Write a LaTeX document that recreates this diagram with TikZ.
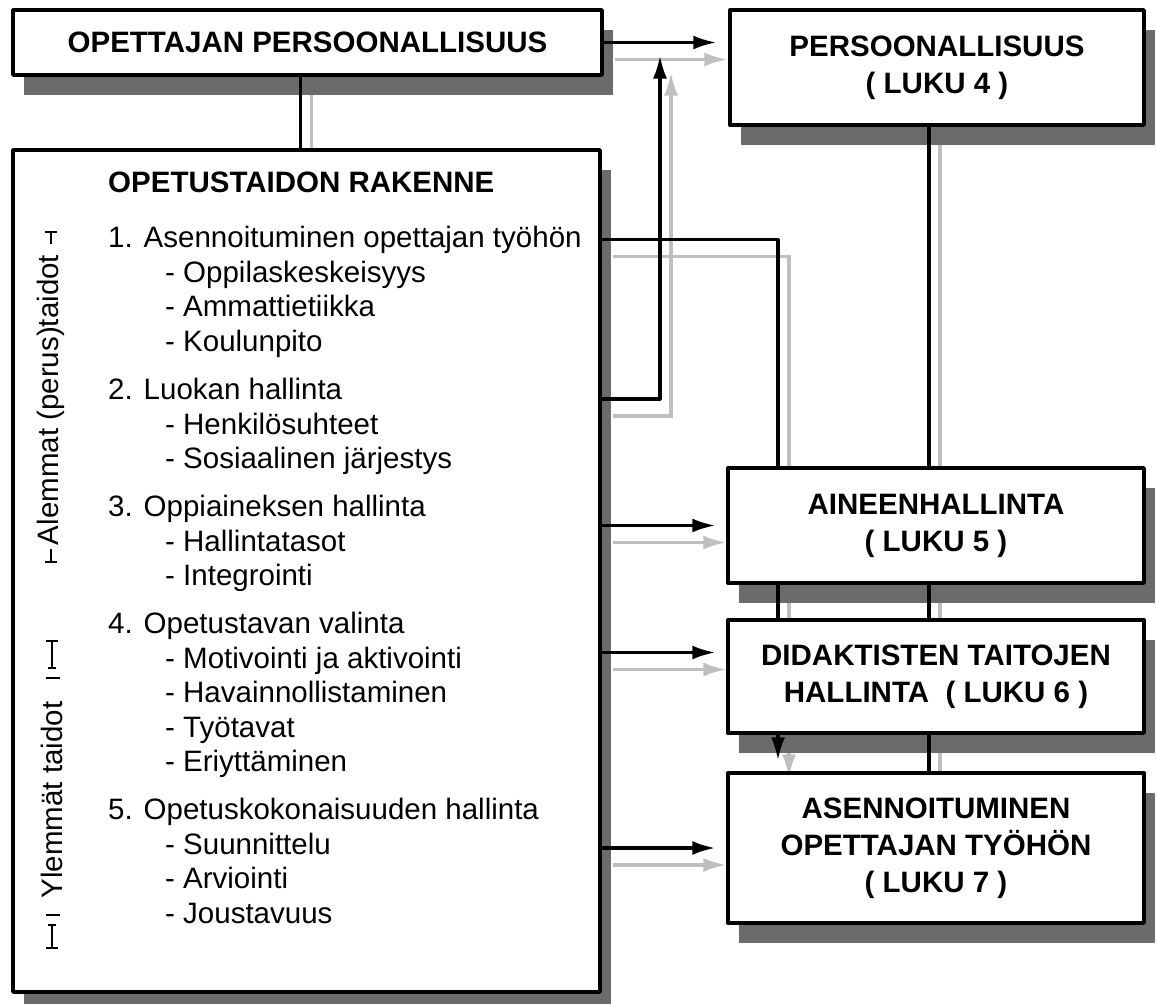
\documentclass[tikz,border=0pt]{standalone}
\usepackage{fontspec}
\setmainfont{Liberation Sans}
\usetikzlibrary{arrows.meta,shadows}
\pgfdeclarelayer{background}
\pgfsetlayers{background,main}
% the connectors, drawn twice: grey shadow copy and black line
\newcommand{\drawlinks}{%
  \draw[link, ->, shorten >=12pt] (topbox.east) -- (topbox.east -| pers.west);
  \draw[link] ([xshift=-7pt]topbox.south) -- ([xshift=-7pt]topbox.south |- rakenne.north);
  \draw[link, ->, shorten >=13pt] (rakenne.east |- t2.base) -| (upjoin);
  \draw[link] (rakenne.east |- t1) -| (lane1 |- aine.north);
  \draw[link] (lane2 |- pers.south) -- (lane2 |- aine.north);
  \draw[link] (lane1 |- aine.south) -- (lane1 |- didak.north);
  \draw[link] (lane2 |- aine.south) -- (lane2 |- didak.north);
  \draw[link, ->, shorten >=11pt] (lane1 |- didak.south) -- (lane1 |- asenn.north);
  \draw[link] (lane2 |- didak.south) -- (lane2 |- asenn.north);
  \draw[link, ->, shorten >=11pt] (rakenne.east |- aine.west) -- (aine.west);
  \draw[link, ->, shorten >=11pt] (rakenne.east |- didak.west) ++(0,-24) -- ([yshift=24pt]didak.west);
  \draw[link, ->, shorten >=11pt] (rakenne.east |- asenn.west) -- (asenn.west);
}
\begin{document}
\begin{tikzpicture}[x=1pt, y=-1pt, line join=round,
    >={Latex[length=23pt,width=14pt]},
    link/.style={line width=3.2pt},
    tick/.style={line width=2.6pt},
    box/.style={draw, line width=3.4pt, fill=white, align=center, inner sep=0pt,
      font=\fontsize{29.5}{37}\selectfont\bfseries,
      drop shadow={shadow xshift=11pt, shadow yshift=-20pt, fill=black!58, opacity=1}},
    item/.style={anchor=base west, inner sep=0pt, font=\fontsize{29.5}{35}\selectfont}]
  \useasboundingbox (0,0) rectangle (1157,1004);
  % boxes
  \node[box, minimum width=589pt, minimum height=65pt] (topbox) at (307.5,42.5) {OPETTAJAN PERSOONALLISUUS};
  \node[box, minimum width=414pt, minimum height=115pt] (pers) at (937,67.5) {PERSOONALLISUUS\\( LUKU 4 )};
  \node[box, minimum width=587pt, minimum height=842pt] (rakenne) at (306.5,571) {};
  \node[box, minimum width=416pt, minimum height=115pt] (aine) at (936,525.5) {AINEENHALLINTA\\( LUKU 5 )};
  \node[box, minimum width=416pt, minimum height=113pt] (didak) at (936,676.5) {DIDAKTISTEN TAITOJEN\\HALLINTA \ ( LUKU 6 )};
  \node[box, minimum width=416pt, minimum height=150pt] (asenn) at (936,848) {ASENNOITUMINEN\\OPETTAJAN TYÖHÖN\\( LUKU 7 )};
  % contents of the big box
  \node[item, font=\fontsize{29.5}{35}\selectfont\bfseries] (title) at (108,192) {OPETUSTAIDON RAKENNE};
  \foreach \y/\txt [count=\i] in {247/Asennoituminen opettajan työhön, 399/Luokan hallinta,
      516/Oppiaineksen hallinta, 633/Opetustavan valinta, 819/Opetuskokonaisuuden hallinta}
    \node[item] (t\i) at (108,\y) {\i. \txt};
  \foreach \y/\txt [count=\i] in {282/Oppilaskeskeisyys, 316/Ammattietiikka, 351/Koulunpito,
      434/Henkilösuhteet, 468/Sosiaalinen järjestys, 551/Hallintatasot, 585/Integrointi,
      668/Motivointi ja aktivointi, 702/Havainnollistaminen, 737/Työtavat, 771/Eriyttäminen,
      854/Suunnittelu, 888/Arviointi, 923/Joustavuus}
    \node[item] (s\i) at (165,\y) {- \txt};
  % side labels
  \node[rotate=90, inner sep=0pt, font=\fontsize{29.5}{35}\selectfont] (alemmat) at (51,400) {Alemmat (perus)taidot};
  \node[rotate=90, inner sep=0pt, font=\fontsize{29.5}{35}\selectfont] (ylemmat) at (52,800) {Ylemmät taidot};
  \draw[tick] (45,232) -- (57,232) (51,232) -- (51,244);
  \draw[tick] (51,549) -- (51,562) (45,562) -- (57,562);
  \draw[tick] (46,641) -- (58,641) (52,641) -- (52,668) (48,668) -- (56,668);
  \draw[tick] (46,678) -- (60,678);
  \draw[tick] (46,915) -- (60,915);
  \draw[tick] (48,925) -- (56,925) (52,925) -- (52,948) (46,948) -- (58,948);
  % connectors
  \coordinate (upjoin) at (660,42.5);
  \coordinate (lane1) at (778,0);
  \coordinate (lane2) at (929,0);
  \begin{pgfonlayer}{background}
    \begin{scope}[transform canvas={xshift=11pt, yshift=-17pt}, black!25]
      \drawlinks
    \end{scope}
  \end{pgfonlayer}
  \drawlinks
\end{tikzpicture}
\end{document}
